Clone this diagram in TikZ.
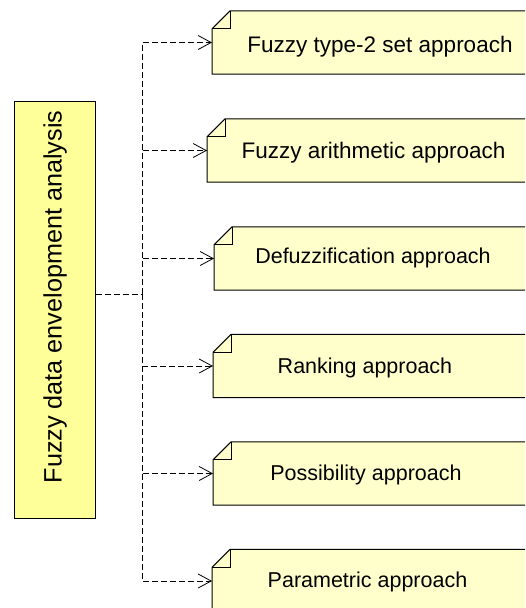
\documentclass[tikz,border=0pt]{standalone}
\usepackage{fontspec}
\setmainfont{Liberation Sans}
\usetikzlibrary{arrows.meta}
\definecolor{mainfill}{HTML}{FFFF99}
\definecolor{notefill}{HTML}{FFFFCC}
\tikzset{
  mainbox/.style={draw=black, line width=1pt, fill=mainfill, minimum width=81pt, minimum height=417pt, inner sep=0pt},
  notebox/.style={draw=none, fill=none, minimum width=340pt, minimum height=63pt, inner sep=0pt, anchor=west},
  noteshape/.style={draw=black, line width=1pt, fill=notefill},
  foldline/.style={draw=black, line width=1pt},
  notetext/.style={font=\fontsize{21.5pt}{26pt}\selectfont, anchor=base, inner sep=0pt},
  bignotetext/.style={font=\fontsize{22.5pt}{26pt}\selectfont, anchor=base, inner sep=0pt},
  maintext/.style={font=\fontsize{25.2pt}{29pt}\selectfont, rotate=90, inner sep=0pt},
  conn/.style={draw=black, line width=0.8pt, dash pattern=on 6pt off 3pt, -{Straight Barb[length=13pt,width=14pt,line width=0.8pt]}},
  connplain/.style={draw=black, line width=0.8pt, dash pattern=on 6pt off 3pt}
}
\newcommand{\notefold}[1]{%
  \path[noteshape] (#1.south west) -- (#1.south east) -- (#1.north east) -- ([xshift=18pt]#1.north west) -- ([yshift=-18pt]#1.north west) -- cycle;
  \draw[foldline] ([xshift=18pt]#1.north west) -- ([xshift=18pt,yshift=-18pt]#1.north west) -- ([yshift=-18pt]#1.north west);
}
\begin{document}
\begin{tikzpicture}[x=1pt,y=-1pt]
\useasboundingbox (0,0) rectangle (525,608);
\clip (0,0) rectangle (525,608);
% main box
\node[mainbox] (m) at (54.5,309.5) {};
\node[maintext] (mt) at (55,297) {Fuzzy data envelopment analysis};
% notes
\node[notebox] (n1) at (212,42.5) {};
\node[notebox] (n2) at (207,150.5) {};
\node[notebox] (n3) at (214,258.5) {};
\node[notebox] (n4) at (213,366) {};
\node[notebox] (n5) at (213,473.5) {};
\node[notebox] (n6) at (212,581) {};
\notefold{n1}
\notefold{n2}
\notefold{n3}
\notefold{n4}
\notefold{n5}
\notefold{n6}
\node[bignotetext] (t1) at (380,52.5) {Fuzzy type-2 set approach};
\node[bignotetext] (t2) at (373.5,158.5) {Fuzzy arithmetic approach};
\node[notetext] (t3) at (373,263) {Defuzzification approach};
\node[notetext] (t4) at (365,373.5) {Ranking approach};
\node[notetext] (t5) at (366,480.5) {Possibility approach};
\node[notetext] (t6) at (367.5,587.5) {Parametric approach};
% connectors
\coordinate (j) at (142,294);
\draw[connplain] (m.east |- j) -- (j);
\draw[conn] (j) |- (n1.west);
\draw[conn] (j) |- (n2.west);
\draw[conn] (j) |- (n3.west);
\draw[conn] (j) |- (n4.west);
\draw[conn] (j) |- (n5.west);
\draw[conn] (j) |- (n6.west);
\end{tikzpicture}
\end{document}
